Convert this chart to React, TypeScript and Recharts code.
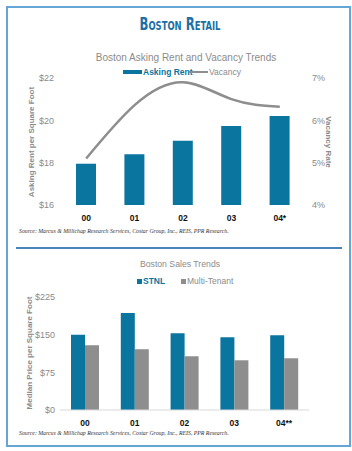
import React from 'react';
import { ComposedChart, BarChart, Bar, Line, XAxis, YAxis } from 'recharts';

const rentYears = ['00', '01', '02', '03', '04*'];
const askingRent = [17.95, 18.4, 19.03, 19.73, 20.2];
const vacancyRate = [5.1, 6.36, 6.9, 6.5, 6.32];
const rentTicks = [16, 18, 20, 22];
const vacancyTicks = [4, 5, 6, 7];

const salesYears = ['00', '01', '02', '03', '04**'];
const stnl = [150, 193, 153, 145, 149];
const multiTenant = [129, 121, 107, 99, 103];
const priceTicks = [0, 75, 150, 225];

const rentData = rentYears.map((y, i) => ({ year: y, rent: askingRent[i], vacancy: vacancyRate[i] }));
const salesData = salesYears.map((y, i) => ({ year: y, stnl: stnl[i], multi: multiTenant[i] }));

const BLUE = '#0a76a0';
const GRAY = '#8e8e8e';
const SANS = 'Arial, "Liberation Sans", sans-serif';

const tickStyle = { fill: '#8a8a8a', fontSize: 9, fontFamily: SANS };
const catTick = { fill: '#111', fontSize: 8.5, fontWeight: 700, fontFamily: SANS };

const sourceText = 'Source: Marcus & Millichap Research Services, Costar Group, Inc., REIS, PPR Research.';

function VLabel({ text, cx, cy, angle }: { text: string; cx: number; cy: number; angle: number }) {
  const w = 160;
  return (
    <div style={{ position: 'absolute', left: cx - w / 2, top: cy - 6, width: w, height: 12, lineHeight: '12px', textAlign: 'center', transform: `rotate(${angle}deg)`, fontFamily: SANS, fontSize: 8, fontWeight: 700, color: '#8c8c8c', whiteSpace: 'nowrap' }}>{text}</div>
  );
}

export default function App() {
  const abs = (s: React.CSSProperties): React.CSSProperties => ({ position: 'absolute', ...s });
  return (
    <div style={{ position: 'absolute', left: 0, top: 0, width: 352, height: 451, background: '#fff', overflow: 'hidden' }}>
      <div style={abs({ left: 6, top: 6, width: 341, height: 437, border: '2px solid #66a6d6' })} />
      <div style={abs({ left: 0, width: 360, top: 14, textAlign: 'center', transform: 'scaleX(0.72)', fontFamily: '"DejaVu Sans Condensed", "Liberation Sans Narrow", sans-serif', fontWeight: 700, fontVariant: 'small-caps', fontSize: 18, color: '#1d70a4', lineHeight: '20px' })}>Boston Retail</div>
      <div style={abs({ left: 0, width: 372, top: 52, textAlign: 'center', fontFamily: SANS, fontSize: 10, color: '#8c8c8c', lineHeight: '12px' })}>Boston Asking Rent and Vacancy Trends</div>
      {/* legend 1 */}
      <div style={abs({ left: 123, top: 70, width: 19, height: 4, background: BLUE })} />
      <div style={abs({ left: 143, top: 66, fontFamily: SANS, fontSize: 8.5, fontWeight: 700, color: BLUE, lineHeight: '12px' })}>Asking Rent</div>
      <div style={abs({ left: 189, top: 71, width: 19, height: 2, background: GRAY })} />
      <div style={abs({ left: 209, top: 66, fontFamily: SANS, fontSize: 8.5, color: '#8c8c8c', lineHeight: '12px' })}>Vacancy</div>

      <div style={abs({ left: 0, top: 0 })}>
        <ComposedChart width={352} height={240} data={rentData} margin={{ top: 78, right: 0, bottom: 5, left: 0 }}>
          <XAxis dataKey="year" axisLine={false} tickLine={false} tick={catTick} height={30} tickMargin={4} />
          <YAxis yAxisId="l" width={62} domain={[16, 22]} ticks={rentTicks} axisLine={false} tickLine={false}
            tick={tickStyle} tickFormatter={(v: number) => `$${v}`} />
          <YAxis yAxisId="r" orientation="right" width={48} domain={[4, 7]} ticks={vacancyTicks} axisLine={false} tickLine={false}
            tick={tickStyle} tickFormatter={(v: number) => `${v}%`} />
          <Bar yAxisId="l" dataKey="rent" fill={BLUE} barSize={20} isAnimationActive={false} />
          <Line yAxisId="r" dataKey="vacancy" type="natural" stroke={GRAY} strokeWidth={2.5} dot={false} isAnimationActive={false} />
        </ComposedChart>
      </div>
      <VLabel text="Asking Rent per Square Foot" cx={32} cy={142} angle={-90} />
      <VLabel text="Vacancy Rate" cx={328} cy={142} angle={90} />

      <div style={abs({ left: 19, top: 227, fontFamily: '"Liberation Serif", serif', fontStyle: 'italic', fontSize: 5.8, color: '#333', lineHeight: '9px', whiteSpace: 'nowrap' })}>{sourceText}</div>
      <div style={abs({ left: 16, top: 247, width: 326, height: 2, background: '#4a84b8' })} />

      <div style={abs({ left: 0, width: 360, top: 258, textAlign: 'center', fontFamily: SANS, fontSize: 8.7, color: '#8c8c8c', lineHeight: '12px' })}>Boston Sales Trends</div>
      {/* legend 2 */}
      <div style={abs({ left: 137, top: 279, width: 5, height: 5, background: BLUE })} />
      <div style={abs({ left: 143, top: 275, fontFamily: SANS, fontSize: 8.5, fontWeight: 700, color: BLUE, lineHeight: '12px' })}>STNL</div>
      <div style={abs({ left: 181, top: 279, width: 5, height: 5, background: GRAY })} />
      <div style={abs({ left: 187, top: 275, fontFamily: SANS, fontSize: 8.5, color: '#8c8c8c', lineHeight: '12px' })}>Multi-Tenant</div>

      <div style={abs({ left: 0, top: 250 })}>
        <BarChart width={352} height={200} data={salesData} margin={{ top: 47, right: 43, bottom: 10, left: 0 }} barGap={0}>
          <XAxis dataKey="year" axisLine={{ stroke: '#d9d9d9' }} tickLine={false} tick={catTick} height={30} tickMargin={4} />
          <YAxis width={60} domain={[0, 225]} ticks={priceTicks} axisLine={false} tickLine={false} tickSize={3}
            tick={tickStyle} tickFormatter={(v: number) => `$${v}`} />
          <Bar dataKey="stnl" fill={BLUE} barSize={14} isAnimationActive={false} />
          <Bar dataKey="multi" fill={GRAY} barSize={14} isAnimationActive={false} />
        </BarChart>
      </div>
      <VLabel text="Median Price per Square Foot" cx={30} cy={353} angle={-90} />

      <div style={abs({ left: 19, top: 429, fontFamily: '"Liberation Serif", serif', fontStyle: 'italic', fontSize: 5.8, color: '#333', lineHeight: '9px', whiteSpace: 'nowrap' })}>{sourceText}</div>
    </div>
  );
}
